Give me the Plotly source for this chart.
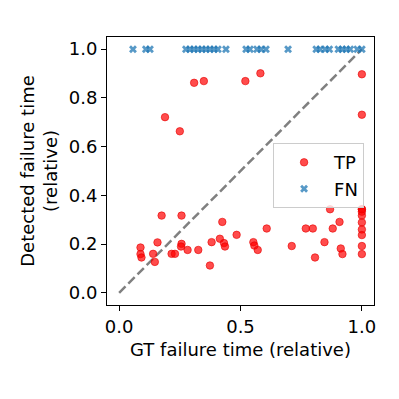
import plotly.graph_objects as go

# True positives: GT failure time vs detected failure time (relative)
tp_gt = [0.189, 0.250, 0.309, 0.349, 0.520, 0.582, 1.0, 1.0,
         0.175, 0.257, 0.425, 0.088, 0.158, 0.088, 0.092, 0.140, 0.147,
         0.216, 0.230, 0.257, 0.255, 0.282, 0.326, 0.381, 0.415, 0.432,
         0.436, 0.484, 0.374, 0.608, 0.553, 0.557, 0.571, 0.711, 0.769,
         0.798, 0.807, 0.846, 0.869, 0.880, 0.908, 0.913, 0.920,
         1.0, 1.0, 1.0, 1.0, 1.0, 1.0, 1.0, 1.0, 1.0]
tp_det = [0.721, 0.663, 0.862, 0.869, 0.869, 0.901, 0.897, 0.731,
          0.317, 0.317, 0.291, 0.186, 0.207, 0.159, 0.145, 0.160, 0.127,
          0.160, 0.160, 0.201, 0.190, 0.176, 0.176, 0.208, 0.222, 0.204,
          0.190, 0.238, 0.112, 0.264, 0.208, 0.194, 0.176, 0.192, 0.264,
          0.264, 0.145, 0.208, 0.343, 0.264, 0.291, 0.182, 0.159,
          0.343, 0.343, 0.333, 0.317, 0.289, 0.260, 0.237, 0.192, 0.159]

# False negatives: GT failure time (detected placed at 1.0)
fn_gt = [0.057, 0.110, 0.127, 0.275, 0.292, 0.308, 0.325, 0.341, 0.358,
         0.374, 0.391, 0.407, 0.440, 0.523, 0.539, 0.568, 0.585, 0.605,
         0.696, 0.812, 0.828, 0.849, 0.866, 0.903, 0.919, 0.936, 0.952,
         0.981, 1.0]
fn_det = [1.0] * len(fn_gt)

diag = [0.0, 1.0]

font = "DejaVu Sans, Liberation Sans, sans-serif"

fig = go.Figure()
fig.add_trace(go.Scatter(
    x=diag, y=diag, mode="lines", showlegend=False, hoverinfo="skip",
    line=dict(color="gray", width=2.5, dash="9px,4px"),
))
fig.add_trace(go.Scatter(
    x=tp_gt, y=tp_det, mode="markers", name="TP",
    marker=dict(symbol="circle", size=7.5, color="rgba(255,0,0,0.7)",
                line=dict(width=1, color="rgba(230,0,0,0.6)")),
))
fig.add_trace(go.Scatter(
    x=fn_gt, y=fn_det, mode="markers", name="FN",
    marker=dict(symbol="x", size=7, color="rgba(31,119,180,0.75)",
                line=dict(width=0)),
))

axis_common = dict(
    showline=True, linecolor="black", linewidth=1, mirror=True,
    ticks="outside", ticklen=5, tickwidth=1, tickcolor="black",
    showgrid=False, zeroline=False, tickformat=".1f",
    tickfont=dict(family=font, size=18, color="black"),
)

fig.update_layout(
    width=391, height=391, autosize=False,
    margin=dict(l=99, r=25, t=29, b=94),
    paper_bgcolor="white", plot_bgcolor="white",
    font=dict(family=font, size=18, color="black"),
    xaxis=dict(range=[-0.05, 1.05], tickvals=[0.0, 0.5, 1.0],
               title=dict(text="GT failure time (relative)",
                          font=dict(family=font, size=18, color="black"),
                          standoff=7),
               **axis_common),
    yaxis=dict(range=[-0.05, 1.05], tickvals=[0.0, 0.2, 0.4, 0.6, 0.8, 1.0],
               title=dict(text="Detected failure time<br>(relative)",
                          font=dict(family=font, size=18, color="black"),
                          standoff=6),
               **axis_common),
    legend=dict(x=0.622, y=0.604, xanchor="left", yanchor="top",
                bgcolor="rgba(255,255,255,0.8)", bordercolor="#cccccc",
                borderwidth=1, font=dict(family=font, size=18, color="black"),
                itemwidth=50, tracegroupgap=0),
    showlegend=True,
)

fig.write_html("out.html")
